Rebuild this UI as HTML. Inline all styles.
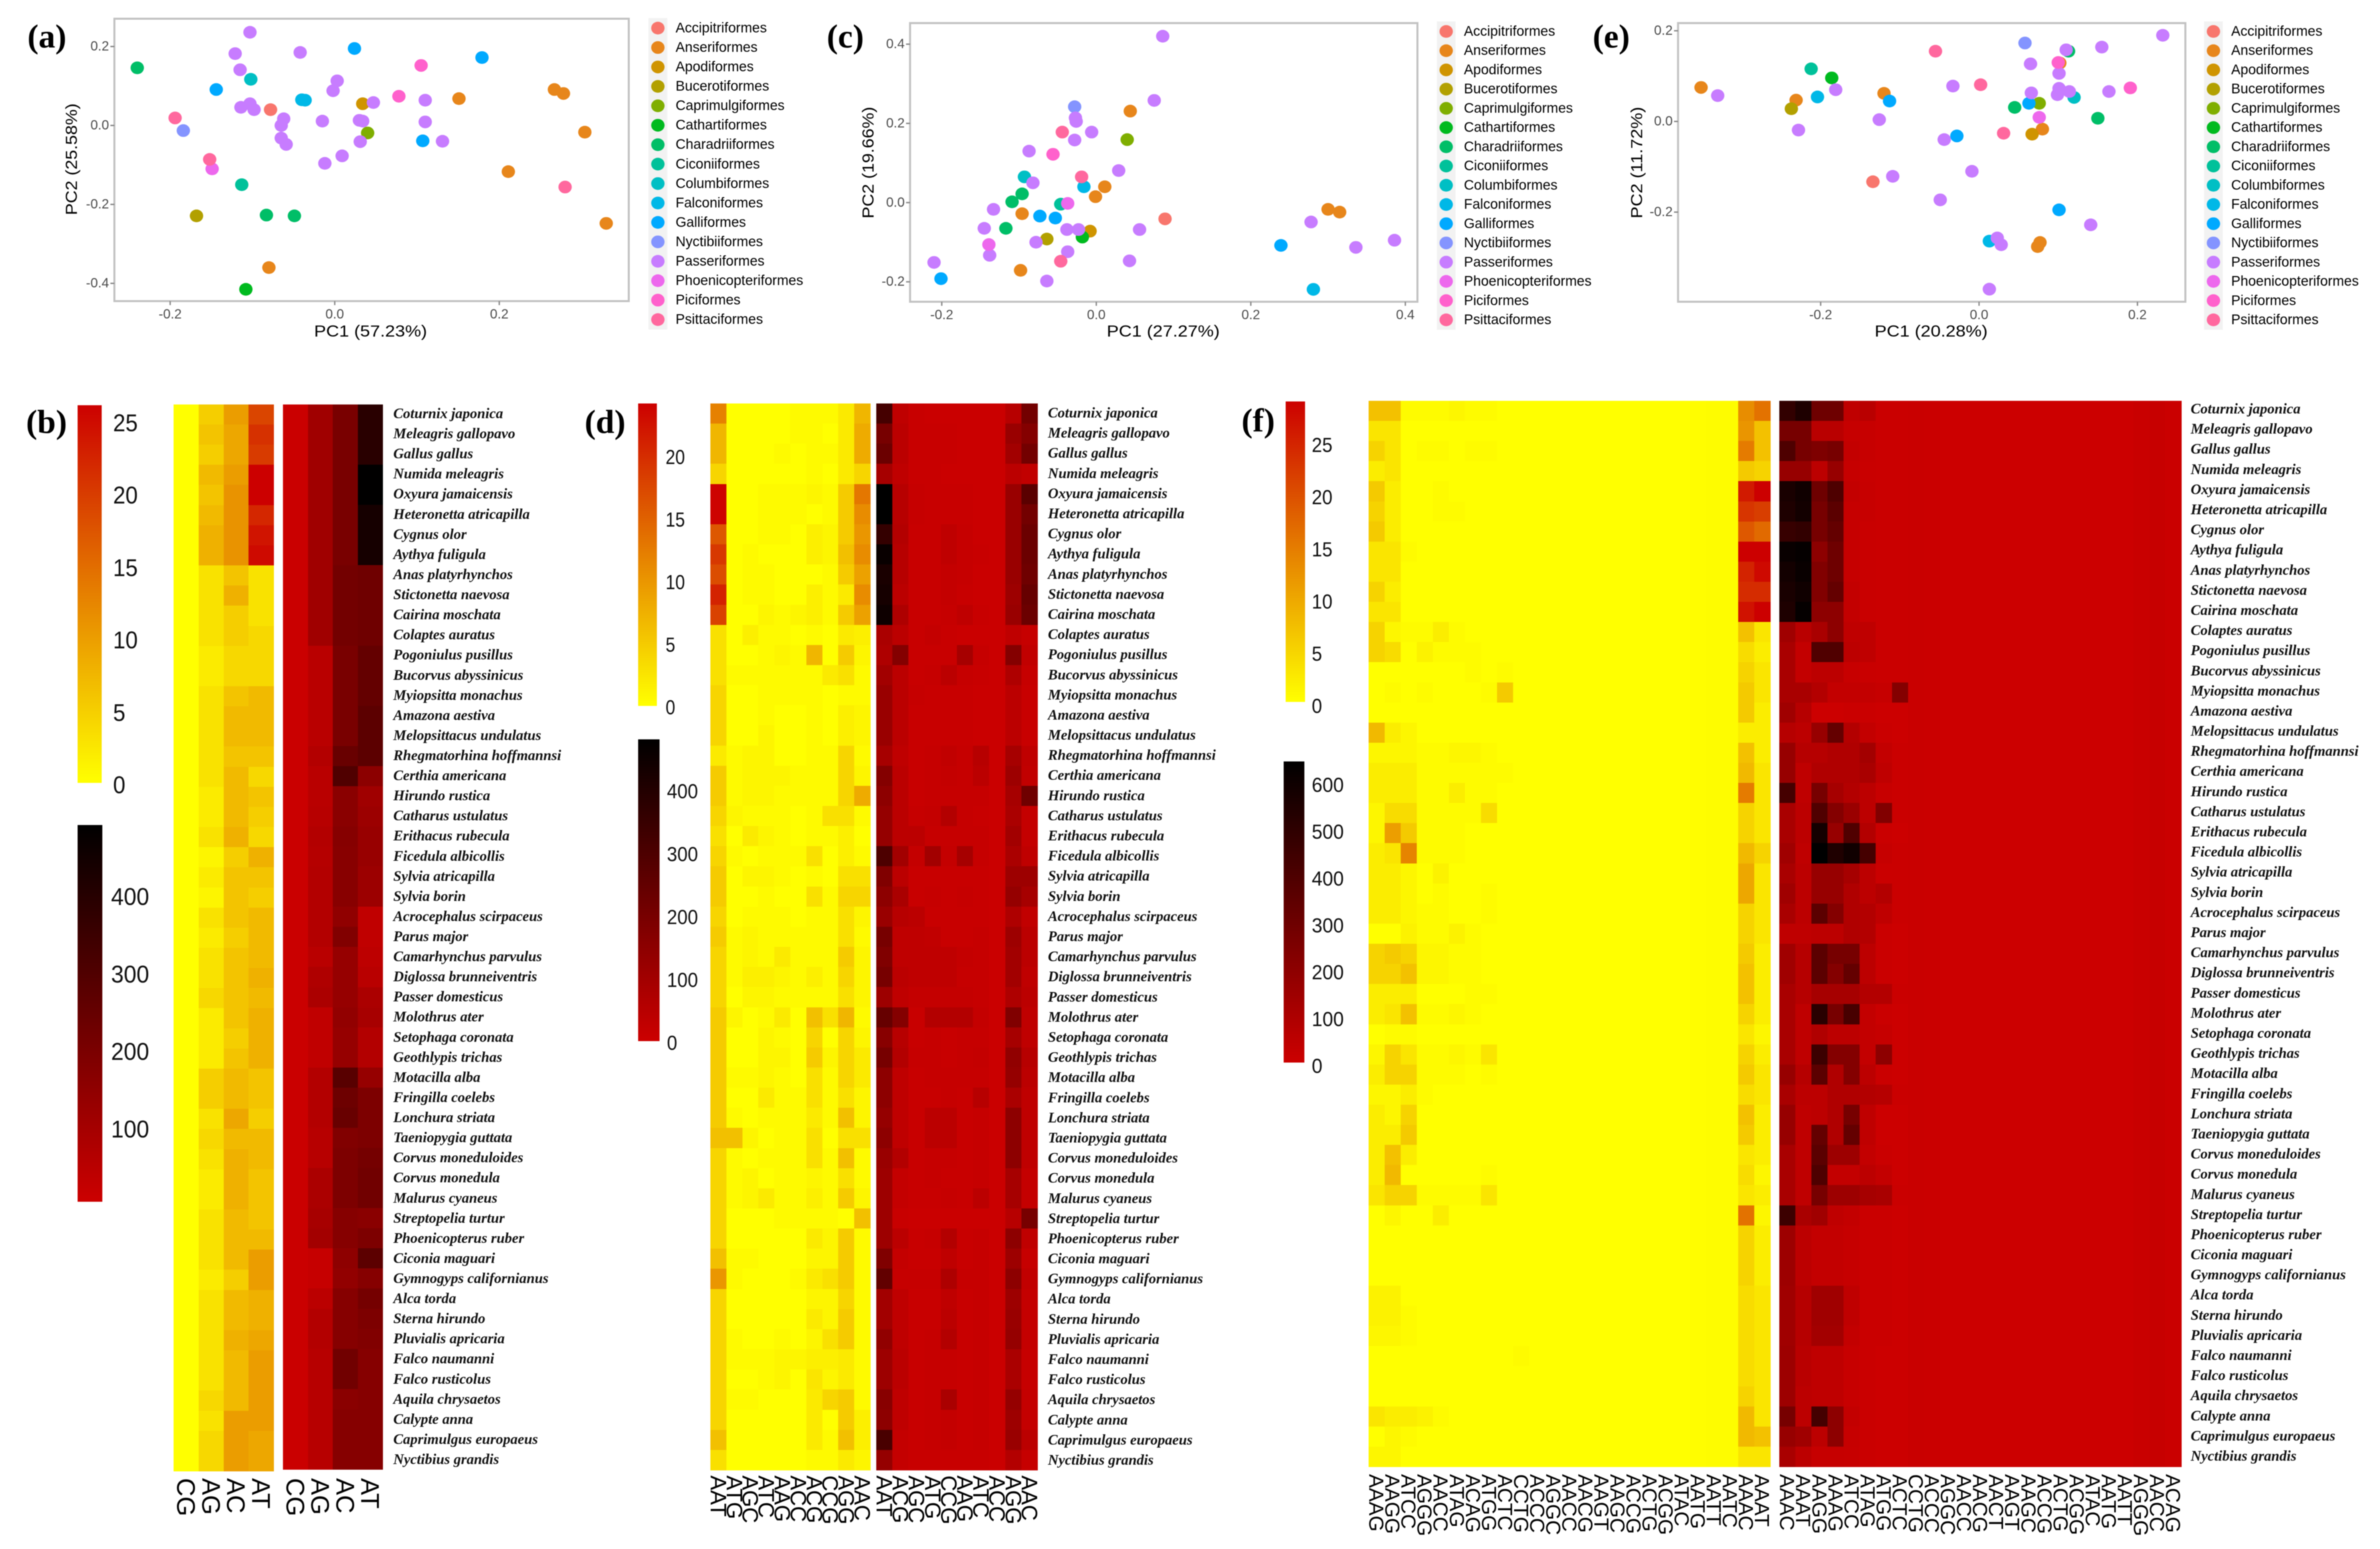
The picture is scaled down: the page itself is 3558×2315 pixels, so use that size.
<!DOCTYPE html>
<html lang="en">
<head>
<meta charset="utf-8">
<title>Bird genome repeat PCA and heatmaps</title>
<style>
html,body{margin:0;padding:0;background:#fff;}
#figure{display:block;filter:blur(0.9px);}
text{font-family:"Liberation Sans",sans-serif;}
.panel-letter{font-family:"Liberation Serif",serif;font-weight:bold;font-size:50px;fill:#000;}
.axis-title{font-size:24px;fill:#000;}
</style>
</head>
<body>
<svg id="figure" xmlns="http://www.w3.org/2000/svg" width="3558" height="2315" viewBox="0 0 3558 2315">
<rect x="0" y="0" width="3558" height="2315" fill="#fff"/>
<defs>
<linearGradient id="lowGradient" x1="0" y1="0" x2="0" y2="1"><stop offset="0" stop-color="#CC0000"/><stop offset="1" stop-color="#FFFF00"/></linearGradient>
<linearGradient id="highGradient" x1="0" y1="0" x2="0" y2="1"><stop offset="0" stop-color="#000000"/><stop offset="1" stop-color="#CC0000"/></linearGradient>
</defs>
<text class="panel-letter" x="41" y="71">(a)</text>
<text class="panel-letter" x="39" y="647">(b)</text>
<text class="panel-letter" x="1236" y="71">(c)</text>
<text class="panel-letter" x="874" y="647">(d)</text>
<text class="panel-letter" x="2381" y="71">(e)</text>
<text class="panel-letter" x="1856" y="645">(f)</text>
<text class="axis-title" x="554" y="503" text-anchor="middle" textLength="169" lengthAdjust="spacingAndGlyphs">PC1 (57.23%)</text>
<text class="axis-title" transform="translate(115,238) rotate(-90)" text-anchor="middle" textLength="167" lengthAdjust="spacingAndGlyphs">PC2 (25.58%)</text>
<text class="axis-title" x="1739" y="503" text-anchor="middle" textLength="169" lengthAdjust="spacingAndGlyphs">PC1 (27.27%)</text>
<text class="axis-title" transform="translate(1306,243) rotate(-90)" text-anchor="middle" textLength="167" lengthAdjust="spacingAndGlyphs">PC2 (19.66%)</text>
<text class="axis-title" x="2887" y="503" text-anchor="middle" textLength="169" lengthAdjust="spacingAndGlyphs">PC1 (20.28%)</text>
<text class="axis-title" transform="translate(2455,243) rotate(-90)" text-anchor="middle" textLength="167" lengthAdjust="spacingAndGlyphs">PC2 (11.72%)</text>
</svg>
<script>
const NS = 'http://www.w3.org/2000/svg';
const svg = document.getElementById('figure');

/* ---------- shared categories ---------- */
const orders = ['Accipitriformes','Anseriformes','Apodiformes','Bucerotiformes','Caprimulgiformes','Cathartiformes','Charadriiformes','Ciconiiformes','Columbiformes','Falconiformes','Galliformes','Nyctibiiformes','Passeriformes','Phoenicopteriformes','Piciformes','Psittaciformes'];
const orderColors = ['#F8766D','#E7861B','#CF9400','#B2A000','#7FAE00','#00BA1F','#00BE67','#00C19A','#00BFC4','#00B8E7','#00A9FF','#8494FF','#C77CFF','#ED68ED','#FF61CC','#FF689E'];
const orderCounts = [1,7,1,1,1,1,3,1,1,2,4,1,23,1,2,3];
const phoenCountC = [1,7,1,1,1,1,3,1,1,2,4,1,23,2,1,3];
const species = ['Coturnix japonica','Meleagris gallopavo','Gallus gallus','Numida meleagris','Oxyura jamaicensis','Heteronetta atricapilla','Cygnus olor','Aythya fuligula','Anas platyrhynchos','Stictonetta naevosa','Cairina moschata','Colaptes auratus','Pogoniulus pusillus','Bucorvus abyssinicus','Myiopsitta monachus','Amazona aestiva','Melopsittacus undulatus','Rhegmatorhina hoffmannsi','Certhia americana','Hirundo rustica','Catharus ustulatus','Erithacus rubecula','Ficedula albicollis','Sylvia atricapilla','Sylvia borin','Acrocephalus scirpaceus','Parus major','Camarhynchus parvulus','Diglossa brunneiventris','Passer domesticus','Molothrus ater','Setophaga coronata','Geothlypis trichas','Motacilla alba','Fringilla coelebs','Lonchura striata','Taeniopygia guttata','Corvus moneduloides','Corvus monedula','Malurus cyaneus','Streptopelia turtur','Phoenicopterus ruber','Ciconia maguari','Gymnogyps californianus','Alca torda','Sterna hirundo','Pluvialis apricaria','Falco naumanni','Falco rusticolus','Aquila chrysaetos','Calypte anna','Caprimulgus europaeus','Nyctibius grandis'];

/* ---------- PCA values ---------- */
const pcaAx = [-0.078, 0.267,0.278,0.151,0.304,0.211,0.330,-0.080, 0.034, -0.168, 0.040, -0.108, -0.240,-0.083,-0.049, -0.113, -0.102, -0.040,-0.036, -0.144,0.024,0.179,0.107, -0.184,
 -0.103,-0.121,-0.042,-0.115,0.003,-0.002,-0.114,-0.103,-0.098,0.047,0.110,-0.062,-0.065,-0.015,0.030,0.034,0.110,-0.065,-0.059,0.031,0.131,0.009,-0.012, -0.149, 0.105,0.078, -0.194,-0.152,0.280];
const pcaAy = [0.040, 0.091,0.081,0.068,-0.017,-0.117,-0.248,-0.360, 0.055, -0.229, -0.019, -0.415, 0.146,-0.227,-0.229, -0.150, 0.117, 0.065,0.064, 0.091,0.195,0.172,-0.039, -0.013,
 0.236,0.182,0.185,0.141,0.113,0.088,0.046,0.055,0.040,0.058,0.064,0.017,0,0.011,0.013,0.011,0.009,-0.032,-0.048,-0.041,-0.040,-0.077,-0.096, -0.110, 0.152,0.074, 0.019,-0.086,-0.156];
const pcaCx = [0.089, 0.044,0.011,-0.001,-0.096,-0.098,0.300,0.315, -0.008, -0.064, 0.040, -0.018, -0.096,-0.109,-0.117, -0.046, -0.093, -0.016,0.281, -0.073,-0.053,-0.201,0.239, -0.028,
 0.086,0.075,-0.027,-0.026,-0.006,-0.028,-0.087,0.029,-0.082,-0.133,-0.145,-0.038,-0.023,0.056,-0.078,-0.037,-0.138,0.043,-0.210,-0.064,0.278,0.386,0.336, -0.037,-0.139, -0.056, -0.044,-0.019,-0.046];
const pcaCy = [-0.041, 0.231,0.040,0.015,-0.028,-0.171,-0.017,-0.024, -0.072, -0.092, 0.159, -0.087, 0.022,0.002,-0.065, -0.004, 0.065, 0.040,-0.219, -0.034,-0.039,-0.192,-0.108, 0.242,
 0.420,0.258,0.214,0.205,0.178,0.158,0.130,0.081,0.050,-0.017,-0.065,-0.068,-0.068,-0.068,-0.100,-0.124,-0.133,-0.147,-0.151,-0.198,-0.049,-0.095,-0.113, -0.002,-0.106, 0.122, 0.178,0.065,-0.148];
const pcaEx = [-0.134, -0.351,-0.231,-0.120,0.102,0.080,0.074,0.077, 0.067, -0.237, 0.076, -0.186, 0.113,0.045,0.150, -0.212, 0.120, -0.204,0.013, -0.113,0.063,-0.028,0.101, 0.058,
 0.232,0.110,0.155,0.065,0.101,-0.033,-0.330,-0.181,0.066,0.101,0.099,0.114,0.164,-0.126,-0.228,-0.044,-0.109,-0.009,-0.049,0.141,0.023,0.028,0.013, 0.076, 0.100,0.191, -0.055,0.002,0.031];
const pcaEy = [-0.133, 0.075,0.047,0.062,0.129,-0.017,-0.276,-0.267, -0.028, 0.028, 0.040, 0.096, 0.155,0.031,0.007, 0.116, 0.053, 0.054,-0.264, 0.045,0.040,-0.032,-0.195, 0.173,
 0.190,0.158,0.164,0.127,0.106,0.078,0.057,0.070,0.063,0.073,0.059,0.066,0.066,0.004,-0.019,-0.040,-0.121,-0.110,-0.173,-0.228,-0.257,-0.272,-0.370, 0.009, 0.130,0.074, 0.155,0.081,-0.026];
const ticksAx = [-0.2,0,0.2];
const ticksAy = [0.2,0,-0.2,-0.4];
const ticksCx = [-0.2,0,0.2,0.4];
const ticksCy = [0.4,0.2,0,-0.2];
const ticksEx = [-0.2,0,0.2];
const ticksEy = [0.2,0,-0.2];

/* ---------- panel b values ---------- */
const motifsB = ['CG','AG','AC','AT'];
const heatB1 = [[0,5,10,19],[0,6,9,21],[0,5,9,20],[0,7,10,26],[0,6,11,26],[0,7,11,22],[0,8,11,24],[0,8,11,25],[0,3,6,3],[0,3,8,3],[0,3,5,3],[0,3,5,4],[0,2,4,4],[0,2,4,4],[0,3,6,7],[0,3,7,7],[0,3,7,7],[0,3,6,6],[0,3,7,4],[0,2,7,6],[0,2,7,5],[0,3,8,4],[0,1,5,8],[0,2,6,6],[0,1,6,5],[0,3,6,7],[0,2,5,7],[0,3,6,7],[0,3,6,8],[0,4,6,7],[0,2,6,8],[0,2,5,8],[0,2,6,8],[0,5,7,6],[0,5,7,6],[0,3,9,5],[0,4,7,7],[0,3,8,7],[0,2,8,6],[0,2,8,6],[0,3,7,6],[0,3,7,7],[0,3,7,10],[0,2,5,10],[0,3,7,8],[0,3,7,8],[0,3,8,9],[0,3,7,10],[0,3,7,10],[0,4,7,10],[0,3,10,10],[0,4,10,9],[0,4,10,9]];
const heatB2 = [[5,105,200,394],[5,105,200,394],[5,105,200,394],[5,105,200,490],[5,105,200,490],[5,105,200,440],[5,105,200,440],[5,105,200,440],[5,105,215,225],[5,105,215,225],[5,105,215,225],[5,105,215,225],[5,45,200,250],[5,45,200,250],[5,45,200,250],[5,45,200,270],[5,45,200,270],[5,60,240,270],[5,45,300,155],[5,45,160,105],[5,50,160,115],[5,60,170,125],[5,55,165,125],[5,60,165,115],[5,60,165,115],[5,60,145,30],[5,60,180,30],[5,45,130,35],[5,70,130,45],[5,80,130,80],[5,30,140,90],[5,30,130,60],[5,30,130,60],[5,60,280,130],[5,60,230,190],[5,60,240,190],[5,50,180,190],[5,50,190,210],[5,80,190,220],[5,80,190,220],[5,90,170,160],[5,100,170,190],[5,15,150,270],[5,15,140,170],[5,40,170,210],[5,60,170,190],[5,60,170,180],[5,50,220,170],[5,50,220,170],[5,50,160,170],[5,50,170,170],[5,50,170,170],[5,50,170,170]];
const barTicksB1 = [0,5,10,15,20,25];
const barTicksB2 = [100,200,300,400];

/* ---------- panel d values ---------- */
const motifsD1 = ['AAT','ATG','AGC','ATC','AAG','ACC','ACG','CCG','AGG','AAC'];
const motifsD2 = ['AAT','ACG','AGC','ATG','CCG','AAG','ATC','ACC','AGG','AAC'];
const heatD1 = [[12,0,0,0,0,0.5,0.5,0.5,2,7],[7,0,0,0,0,0.5,0.5,0,2,8],[7,0,0,0,0.5,0,0.5,0.5,2,8],[4,0,0,0,0,0,0.5,0,2,4],[24,0,0,0.5,0.5,0.5,1,0.5,5,13],[24,0,0,0.5,0.5,0.5,0,0.5,5,11],[16,0,0,0.5,0.5,0,1.5,1,5,10],[19,0,0.5,0,0,0,1.5,1,6,11],[17,0,0.5,0.5,0,0,0,0.5,5,9],[21,0,0.5,0.5,0,0,1.5,0.5,2,11],[18,0,0,1,0.5,1,1.5,0.5,5,9],[3,0,1.5,0.5,0.5,0,0.5,0,2,1.5],[3,0,0,0.5,1,0.5,7,0,5,1],[3,0.5,0.5,0.5,0.5,0.5,0.5,2,3,0.5],[4,0,0,0.5,0.5,0.5,0.5,0,0.5,0.5],[4,0,0,0.5,0,0,0.5,0,1.5,1],[4,0,0,1,0,0,0.5,0,1.5,1],[2,0.5,1,1,0,0,0.5,0.5,4,0.5],[5,0.5,1,1,1,0.5,0.5,0.5,4,1],[5,0.5,1,1,0.5,0.5,0.5,0.5,4,8],[4,1,0.5,0.5,0.5,0,0.5,3,3,0.5],[3,0,2,1,0.5,0,0.5,0.5,1.5,0],[4,0.5,0,0.5,0.5,0.5,3,0,1.5,0.5],[5,0,1,1,0.5,0,0.5,0,3,3],[5,0,0,0.5,0,0,3,0.5,4,4],[4,0,0.5,0.5,0.5,0,0.5,0.5,3,1],[5,0.5,1,0.5,0.5,0.5,0.5,0.5,3,0.5],[4,0.5,1,0.5,2,0.5,0.5,0.5,5,1],[4,0.5,1.5,1.5,1,0.5,1.5,0.5,4,1],[4,0,1,1,0.5,0.5,0.5,0.5,3,1],[5,1,0,0.5,2,0,6,3,7,0.5],[5,0,0,1,0.5,0,4,0,4,1],[5,0,0,1,1,0,5,1,4,2],[5,0.5,0.5,1,0.5,0,3,0.5,4,2],[5,0,0,2,0.5,0.5,3,0.5,3,1],[5,0.5,0,0.5,0.5,0.5,2,0.5,6,1],[6,6,1,0,0.5,0.5,3,0,3,3],[4,0.5,0,0.5,0.5,0.5,3,0.5,6,0.5],[4,0.5,1,0,0.5,0.5,1,0.5,3,0.5],[4,0.5,1,2,0.5,0.5,1.5,0.5,5,1],[4,0,0,0,0.5,0.5,0.5,0.5,0,6],[4,0,0,0,0,0,2,1,5,0.5],[6,0.5,0.5,0,0,0,1,1,5,0.5],[10,0.5,0,0,0,0.5,2,3,5,0.5],[4,0,0,0,0,0,1,1,4,0.5],[4,0,0,0,0,0,2,1,5,0.5],[4,0.5,0,0,0.5,0,1,3,5,0.5],[4,0.5,0.5,0.5,1,1,1.5,1.5,2,0.5],[4,0,0,0.5,1,0,2.5,1,2,0.5],[4,0.5,0.5,0,0,0,2,4,5,0.5],[4,0,0,0,0,0,2,0,5,1.5],[6,0,0,0,0,0,2,0.5,6,1.5],[3,0,0,0,0,0,0.5,0.5,2,1]];
const heatD2 = [[320,30,10,5,5,5,5,5,50,210],[200,40,10,10,10,5,5,5,120,170],[230,40,10,10,10,5,5,5,100,210],[90,30,10,10,5,5,5,5,40,25],[482,50,15,10,10,10,5,5,120,270],[482,50,15,10,10,10,5,5,120,210],[360,60,10,10,30,15,5,5,120,230],[460,50,10,10,30,15,10,5,120,230],[420,50,10,10,20,15,5,5,120,220],[430,40,10,10,20,10,5,5,110,240],[450,70,10,10,15,30,10,5,120,230],
[80,40,10,20,10,5,5,5,30,15],[70,170,10,10,10,90,15,5,170,25],[100,40,10,15,40,15,10,5,70,15],[120,40,15,10,10,10,5,5,40,10],[120,40,10,10,10,10,5,5,40,10],[120,40,10,10,10,10,5,5,40,10],[90,30,10,15,25,15,50,5,90,30],[170,40,10,15,20,15,40,5,110,25],[150,40,10,15,15,15,15,5,90,220],[130,40,15,20,60,15,10,5,80,20],[130,40,40,15,15,15,15,5,100,20],[300,100,20,100,20,90,15,5,80,30],[180,40,10,10,10,10,10,5,110,110],[150,80,10,15,10,15,10,5,130,90],[120,50,40,10,10,10,10,5,70,25],[200,30,30,25,10,10,15,5,110,40],[180,30,30,30,30,20,15,5,100,40],[200,40,30,30,30,15,15,5,100,30],[110,30,20,20,20,20,15,5,70,40],[240,170,10,60,60,60,20,5,180,30],[160,50,10,15,10,15,15,5,90,30],[200,60,15,15,10,15,20,5,140,50],[150,30,10,15,15,15,15,5,130,40],[150,30,10,10,15,10,50,5,80,30],[130,30,10,40,40,10,15,5,150,30],[150,30,10,40,40,10,15,5,150,30],[120,60,10,15,15,10,15,5,150,30],[110,20,10,15,10,10,15,5,90,20],[110,20,10,10,15,10,40,5,90,20],[110,10,5,5,5,5,5,5,50,200],[110,40,10,15,60,10,15,5,150,30],[180,20,10,10,30,10,15,5,110,15],[250,15,15,15,70,15,15,5,150,25],[100,30,10,10,30,10,15,5,110,20],[100,30,10,10,40,10,15,5,120,20],[140,30,10,15,60,10,15,5,130,20],[110,40,10,15,15,10,15,5,80,15],[110,40,10,15,15,10,15,5,80,15],[160,30,10,15,80,10,15,5,130,20],[150,30,10,15,20,10,15,5,110,20],[310,20,10,15,20,10,15,5,120,40],[130,20,10,10,10,10,10,5,60,15]];
const barTicksD1 = [0,5,10,15,20];
const barTicksD2 = [0,100,200,300,400];

/* ---------- panel f values: first columns per species, typical middle columns, last columns per species ---------- */
const motifsF1 = ['AAAG','AAGG','ATCC','AGGG','AACC','ATAG','ACAG','ATGG','ACTC','CCTG','ACCC','AGGC','AACC','AACG','AAGT','AAGC','ACCG','ACTG','ACGG','ATAC','AATG','AATT','AATC','AAAC','AAAT'];
const motifsF2 = ['AAAC','AAAT','AAGG','AAAG','ATCC','ATAG','ATGG','ACTC','CCTG','ACCC','AGGC','AACC','AACG','AACT','AAGT','AAGC','ACCG','ACTG','ACGG','ATAC','AATG','AATT','AGGG','AACC','ACAG'];
const headF1 = [[7,7,0.5,0.5,0.5,1,0.5,0.5,0,0],[3,3,0,0,0,0,0,0,0,0],[5,3,0,0.5,0.5,0,0.5,0.5,0,0],[2,3,0,0,0,0,0,0,0,0],[6,2,0,0,0.5,0,0,0,0,0],[5,2,0,0,0.5,0.5,0,0,0,0],[6,2,0,0,0,0,0,0,0,0],[3,3,0.5,0,0,0,0,0,0,0],[3,3,0,0,0,0,0,0,0,0],[5,2,0,0,0,0,0,0,0,0],[3,3,0,0,0,0,0,0,0,0],[5,1,0.5,0.5,2,0.5,0,0,0,0],[5,4,0,1.5,0.5,0.5,0.5,0,0,0],[0,0,0,0,0,0,0.5,0,0.5,0],[0,0.5,0,0.5,0,0,0,0.5,6,0],[0,0,0,0,0,0,0,0,0,0],[8,2,1,0,0,0,0,0,0,0],[1,1,1,0.5,0.5,1,1,0.5,0,0],[2,2,2,0.5,0.5,0.5,0.5,0.5,0.5,0],[2,2,2,0.5,0.5,2,0.5,0.5,0,0],[1,4,4,0.5,0.5,0.5,0.5,4,0,0],[1,11,6,0.5,0.5,0.5,0,0,0,0],[2,3,14,0.5,0.5,0.5,0,0,0,0],[2,2,1,0,1.5,0,0,0,0,0],[2,2,1,0,0.5,0,0,0.5,0,0],[2,2,1,0.5,0.5,0,0,0.5,0,0],[0,0,1.5,0.5,0.5,1.5,0.5,0,0,0],[5,6,5,1,1,0.5,0.5,0,0,0],[5,5,7,1,1,0.5,0.5,0,0,0],[2,2,2,0,0,0,0.5,0.5,0,0],[2,3,7,0.5,0.5,1,0.5,0,0,0],[0,0.5,0.5,0,0,0,0,0,0,0],[1,5,3,0.5,0.5,1,0.5,3,0,0],[2,5,5,0.5,0.5,0.5,0,0.5,0,0],[1,1,2,0.5,0,0,0,0,0,0],[2,1,5,0,0,0,0,0,0,0],[2,2,6,0,0,0,0,0,0,0],[2,7,2,0,0,0,0,0,0,0],[2,8,0,0,0,0,0,0.5,0,0],[3,5,5,0.5,0.5,0.5,0.5,3,0,0],[0,1,0,0,2,0,0,0,0,0],[0,0,0,0,0,0,0,0,0,0],[0,0,0,0,0,0,0,0,0,0],[0,0,0,0,0,0,0,0,0,0],[1.5,1.5,0,0,0,0,0,0,0,0],[1.5,1.5,0.5,0,0,0,0,0,0,0],[1,1,0.5,0,0,0,0,0,0,0],[0,0,0,0,0,0,0,0,0,0.5],[0,0,0,0,0,0,0,0,0,0],[0,0,0,0,0,0,0,0,0,0],[3,2,2,1.5,0.5,0,0,0,0,0],[0,1,0.5,0,0,0,0,0,0,0],[1,1,0,0,0,0,0,0,0,0]];
const midF1 = [0,0,0,0,0,0,0,0,0,0,0.2,0.3,0.3];
const tailF1 = [[13,16],[12,7],[15,7],[6,5],[26,29],[23,22],[19,17],[29,29],[25,28],[24,24],[27,29],[7,3],[4,2],[5,3],[6,3],[6,2],[2,2],[7,2],[8,3],[15,3],[5,3],[5,3],[8,5],[10,3],[10,3],[5,3],[5,3],[6,2],[7,2],[7,2],[5,2],[3,1],[5,2],[6,3],[4,3],[7,2],[6,2],[3,2],[4,1],[3,2],[16,1],[5,2],[5,2],[5,2],[4,3],[4,3],[4,3],[4,3],[4,3],[5,3],[8,3],[8,7],[3,3]];
const headF2 = [[490,554,300,300,40,60,5,5],[270,270,60,60,20,15,5,5],[400,270,250,270,30,15,5,5],[170,170,50,170,20,10,5,5],[570,600,300,400,30,15,5,5],[555,590,270,360,20,15,5,5],[475,490,270,330,20,10,5,5],[620,635,200,300,20,10,5,5],[590,620,240,300,20,10,5,5],[570,600,240,330,30,10,5,5],[555,635,200,200,30,10,5,5],[140,60,110,200,40,40,5,5],[110,30,395,395,50,40,5,5],[110,30,50,50,15,10,5,5],[110,110,80,30,30,30,20,230],[140,70,0,0,5,5,0,0],[70,50,170,330,80,30,5,0],[170,70,70,90,90,130,30,5],[170,40,90,90,90,110,40,5],[430,40,270,120,80,50,15,5],[110,50,395,230,160,50,240,5],[110,50,585,170,395,80,5,0],[140,40,650,550,600,430,20,5],[110,50,170,170,120,50,5,5],[140,50,170,170,90,50,80,5],[110,50,360,230,90,80,40,5],[40,40,50,50,90,80,5,0],[140,70,360,270,270,50,5,0],[140,70,360,230,330,50,5,0],[110,70,120,120,120,80,80,5],[110,40,520,270,420,30,5,0],[110,40,90,50,50,30,20,0],[110,40,460,230,230,30,200,0],[170,70,360,90,230,50,5,0],[110,50,50,90,90,80,70,5],[170,40,50,90,270,40,0,0],[170,40,330,90,330,40,0,0],[110,40,360,150,150,30,5,0],[110,40,400,30,30,50,30,0],[110,40,270,150,150,120,110,5],[460,110,140,40,30,5,5,0],[150,50,30,30,20,5,5,0],[150,50,30,30,20,5,5,0],[150,50,30,30,20,5,5,0],[140,70,140,140,40,5,5,0],[140,70,140,140,40,5,5,0],[140,70,130,130,30,5,5,0],[150,60,40,40,15,5,0,0],[150,60,40,40,15,5,0,0],[150,50,40,40,15,5,0,0],[270,50,430,200,30,5,0,0],[170,140,50,200,20,5,0,0],[110,50,20,20,15,5,0,0]];
const midF2 = [10,5,0,0,0,0,0,0,0,0,0,0,0,0,10,15,5];
const barTicksF1 = [0,5,10,15,20,25];
const barTicksF2 = [0,100,200,300,400,500,600];

/* ---------- drawing helpers ---------- */
function label(parent, name, str, x, y, size, fill, anchor) {
  const t = document.createElementNS(NS, 'text');
  
  
  t.setAttribute('x', x);
  t.setAttribute('y', y);
  t.setAttribute('font-size', size);
  t.setAttribute('fill', fill);
  t.setAttribute('text-anchor', anchor);
  t.setAttribute('dominant-baseline', 'central');
  t.textContent = str;
  parent.appendChild(t);
  return t;
}
function group(name) {
  const g = document.createElementNS(NS, 'g');
  
  
  svg.appendChild(g);
  return g;
}
function box(parent, name, x, y, w, h, fill) {
  const r = document.createElementNS(NS, 'rect');
  
  
  r.setAttribute('x', x);
  r.setAttribute('y', y);
  r.setAttribute('width', w);
  r.setAttribute('height', h);
  r.setAttribute('fill', fill);
  parent.appendChild(r);
  return r;
}
function line(parent, name, x1, y1, x2, y2, color, width) {
  const l = document.createElementNS(NS, 'line');
  
  
  l.setAttribute('x1', x1);
  l.setAttribute('y1', y1);
  l.setAttribute('x2', x2);
  l.setAttribute('y2', y2);
  l.setAttribute('stroke', color);
  l.setAttribute('stroke-width', width);
  parent.appendChild(l);
}

function scatter(id, p, xs, ys, counts, xTicks, yTicks) {
  const g = group('pca-panel-' + id);
  const sx = v => p.x0 + v * p.kx;
  const sy = v => p.y0 - v * p.ky;
  const frame = box(g, 'plot-frame', p.left, p.top, p.right - p.left, p.bottom - p.top, '#fff');
  frame.setAttribute('stroke', '#C2C2C2');
  frame.setAttribute('stroke-width', '3');
  xTicks.forEach(v => {
    line(g, 'x-tick', sx(v), p.bottom, sx(v), p.bottom + 6, '#888', 2);
    label(g, 'x-tick-label', v.toFixed(1), sx(v), p.bottom + 20, 20, '#4D4D4D', 'middle');
  });
  yTicks.forEach(v => {
    line(g, 'y-tick', p.left - 6, sy(v), p.left, sy(v), '#888', 2);
    label(g, 'y-tick-label', v.toFixed(1), p.left - 8, sy(v), 20, '#4D4D4D', 'end');
  });
  let i = 0;
  counts.forEach((n, o) => {
    for (let k = 0; k < n; k++, i++) {
      const c = document.createElementNS(NS, 'ellipse');
      
      
      c.setAttribute('cx', sx(xs[i]));
      c.setAttribute('cy', sy(ys[i]));
      c.setAttribute('rx', 10);
      c.setAttribute('ry', 9.5);
      c.setAttribute('fill', orderColors[o]);
      g.appendChild(c);
    }
  });
  box(g, 'legend-key-background', p.keyX - 14, p.legTop - 15, 28, p.legBottom - p.legTop + 30, '#F2F2F2');
  orders.forEach((o, n) => {
    const y = p.legTop + n * (p.legBottom - p.legTop) / (orders.length - 1);
    const c = document.createElementNS(NS, 'ellipse');
    
    
    c.setAttribute('cx', p.keyX);
    c.setAttribute('cy', y);
    c.setAttribute('rx', 10);
    c.setAttribute('ry', 9.5);
    c.setAttribute('fill', orderColors[n]);
    g.appendChild(c);
    label(g, 'legend-label', o, p.keyX + 26.5, y, 20.8, '#000', 'start');
  });
}

function heat(name, rows, columns, p) {
  const g = group(name);
  const rowH = (p.bottom - p.top) / rows.length;
  const colW = p.w / columns.length;
  const sx = c => p.x + c * colW;
  const sy = r => p.top + r * rowH;
  rows.forEach((row, r) => {
    row.forEach((v, c) => {
      const t = Math.max(0, Math.min(1, v / p.max));
      const fill = 'rgb(' + p.colour(t).map(Math.round).join(',') + ')';
      const cell = box(g, 'heatmap-cell', sx(c), sy(r), colW + 0.6, rowH + 0.6, fill);
      cell.setAttribute('shape-rendering', 'crispEdges');
    });
  });
  columns.forEach((m, c) => {
    const t = document.createElementNS(NS, 'text');
    
    
    t.setAttribute('transform', 'translate(' + (sx(c) + colW / 2 - p.labelSize * 0.35) + ',' + p.labelY + ') rotate(90)');
    t.setAttribute('font-size', p.labelSize);
    t.setAttribute('fill', '#000');
    t.textContent = m;
    g.appendChild(t);
  });
}
const lowRamp = t => [255 - 51 * t, 255 * (1 - t), 0];
const highRamp = t => [204 * (1 - t), 0, 0];

function names(name, x, first, last, size) {
  const g = group(name);
  species.forEach((s, i) => {
    const t = label(g, 'species-label', s, x, first + i * (last - first) / (species.length - 1), size, '#111', 'start');
    t.setAttribute('font-family', '"Liberation Serif", serif');
    t.setAttribute('font-weight', 'bold');
    t.setAttribute('font-style', 'italic');
    t.style.fontFamily = '"Liberation Serif", serif';
  });
}

function colorbar(name, ticks, p) {
  const g = group(name);
  box(g, 'colorbar-ramp', p.x, p.top, p.w, p.bottom - p.top, 'url(#' + p.grad + ')');
  const sy = v => p.zero - v * p.k;
  ticks.forEach(v => {
    const t = label(g, 'colorbar-tick-label', String(v), p.labelX, sy(v), p.size, '#111', 'start');
    t.setAttribute('textLength', String(v).length * p.digit);
    t.setAttribute('lengthAdjust', 'spacingAndGlyphs');
  });
}

/* ---------- assemble panels ---------- */
scatter('a', {left:171,right:940,top:28,bottom:450,x0:500.4,kx:1230,y0:187.5,ky:590,keyX:983.5,legTop:42,legBottom:477.6}, pcaAx, pcaAy, orderCounts, ticksAx, ticksAy);
scatter('c', {left:1360.5,right:2119,top:34.5,bottom:451,x0:1638.9,kx:1155,y0:302.8,ky:592,keyX:2162,legTop:47,legBottom:478}, pcaCx, pcaCy, phoenCountC, ticksCx, ticksCy);
scatter('e', {left:2508.6,right:3267,top:34.5,bottom:451,x0:2958.6,kx:1184,y0:181.5,ky:677.5,keyX:3309,legTop:47,legBottom:478}, pcaEx, pcaEy, orderCounts, ticksEx, ticksEy);

colorbar('colorbar-b-low', barTicksB1, {x:116,w:36,top:605.6,bottom:1170,zero:1173,k:21.65,labelX:169,size:36,digit:18.5,grad:'lowGradient'});
colorbar('colorbar-b-high', barTicksB2, {x:116,w:37,top:1233,bottom:1796,zero:1803,k:1.157,labelX:166,size:36,digit:19,grad:'highGradient'});
colorbar('colorbar-d-low', barTicksD1, {x:954,w:28,top:603,bottom:1055,zero:1057,k:18.7,labelX:995,size:31,digit:14.5,grad:'lowGradient'});
colorbar('colorbar-d-high', barTicksD2, {x:954,w:32,top:1105,bottom:1556,zero:1558.7,k:0.94,labelX:997,size:31,digit:15.5,grad:'highGradient'});
colorbar('colorbar-f-low', barTicksF1, {x:1922,w:29,top:600,bottom:1049,zero:1055,k:15.6,labelX:1961,size:31,digit:15.5,grad:'lowGradient'});
colorbar('colorbar-f-high', barTicksF2, {x:1919,w:31,top:1138,bottom:1588,zero:1593,k:0.70,labelX:1961,size:31,digit:16,grad:'highGradient'});

heat('heatmap-b-low', heatB1, motifsB, {x:259.5,w:149.5,top:604.4,bottom:2198.5,max:26,colour:lowRamp,labelY:2209,labelSize:38});
heat('heatmap-b-high', heatB2, motifsB, {x:423,w:149,top:604.4,bottom:2196,max:492,colour:highRamp,labelY:2209,labelSize:38});
heat('heatmap-d-low', heatD1, motifsD1, {x:1062,w:239,top:603,bottom:2197,max:24.3,colour:lowRamp,labelY:2205,labelSize:33});
heat('heatmap-d-high', heatD2, motifsD2, {x:1310,w:241,top:603,bottom:2197,max:482,colour:highRamp,labelY:2205,labelSize:33});
const rowsF1 = headF1.map((h, r) => h.concat(midF1, tailF1[r]));
const rowsF2 = headF2.map(h => h.concat(midF2));
heat('heatmap-f-low', rowsF1, motifsF1, {x:2046,w:600.5,top:599,bottom:2192,max:29,colour:lowRamp,labelY:2203,labelSize:31});
heat('heatmap-f-high', rowsF2, motifsF2, {x:2660,w:601,top:599,bottom:2192,max:650,colour:highRamp,labelY:2203,labelSize:31});

names('species-labels-b', 588, 618, 2181, 21.8);
names('species-labels-d', 1566.6, 617, 2182, 21.8);
names('species-labels-f', 3275, 611, 2176, 21.8);
</script>
</body>
</html>
